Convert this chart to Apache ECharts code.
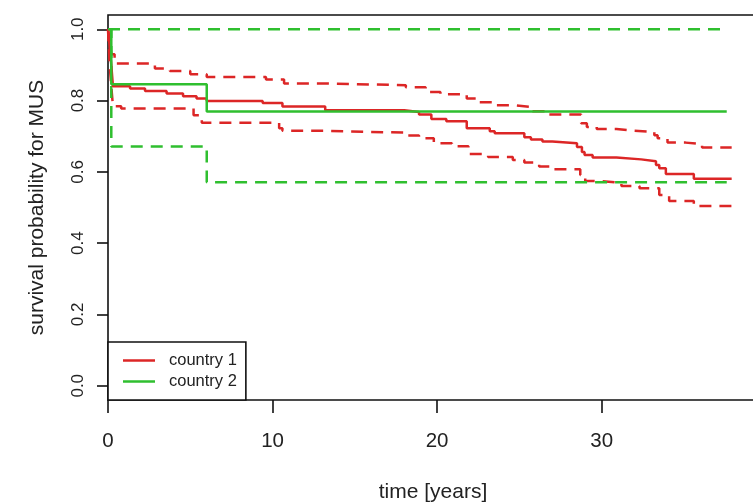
<!DOCTYPE html>
<html>
<head>
<meta charset="utf-8">
<script src="https://cdn.jsdelivr.net/npm/echarts@6/dist/echarts.min.js"></script>
<style>html,body{margin:0;padding:0;background:#fff;}#c{width:753px;height:502px;}</style>
</head>
<body>
<div id="c"></div>
<script>
// ---- data ----
const xTicks = [0, 10, 20, 30];
const yTicks = [0, 0.2, 0.4, 0.6, 0.8, 1.0];

// country 1 (Kaplan-Meier estimate and confidence bounds): [time, survival]
const c1Est = [[0,1.0],[0.1,0.95],[0.2,0.90],[0.3,0.840],[1.34,0.834],[2.25,0.827],[3.56,0.820],[4.56,0.812],[5.38,0.806],[6.0,0.799],[9.4,0.793],[10.6,0.783],[13.2,0.773],[18.0,0.768],[18.9,0.761],[19.65,0.748],[20.56,0.742],[21.8,0.722],[23.2,0.714],[23.5,0.708],[25.3,0.697],[25.7,0.691],[26.4,0.685],[27.0,0.680],[28.5,0.670],[28.8,0.656],[28.96,0.647],[29.45,0.640],[30.9,0.635],[32.4,0.630],[33.3,0.619],[33.5,0.610],[33.9,0.594],[35.6,0.581],[37.9,0.581]];
const c1Upper = [[0,1.0],[0.1,0.97],[0.2,0.93],[0.4,0.904],[2.85,0.890],[3.76,0.883],[5.0,0.874],[6.0,0.866],[9.6,0.859],[10.7,0.848],[13.2,0.843],[18.1,0.837],[19.3,0.824],[20.2,0.818],[21.8,0.806],[22.4,0.795],[23.5,0.787],[24.6,0.782],[25.8,0.770],[26.8,0.761],[28.75,0.736],[29.1,0.726],[29.7,0.720],[30.9,0.715],[32.0,0.712],[33.2,0.703],[33.4,0.694],[34.0,0.682],[35.1,0.678],[36.1,0.668],[37.9,0.668]];
const c1Lower = [[0,1.0],[0.1,0.90],[0.2,0.84],[0.3,0.784],[0.8,0.778],[5.2,0.759],[5.7,0.738],[10.4,0.722],[10.6,0.715],[13.2,0.710],[18.0,0.702],[18.9,0.694],[19.8,0.680],[20.9,0.672],[21.9,0.650],[23.1,0.642],[24.6,0.633],[25.3,0.626],[26.2,0.615],[26.9,0.607],[28.7,0.591],[29.0,0.574],[30.0,0.569],[31.2,0.560],[32.3,0.554],[33.5,0.535],[34.1,0.518],[35.6,0.504],[37.9,0.503]];

// country 2
const c2Est = [[0,1.0],[0.2,0.846],[6.0,0.769],[37.6,0.769]];
const c2Upper = [[0,1.0],[37.6,1.0]];
const c2Lower = [[0,1.0],[0.2,0.671],[6.0,0.571],[37.6,0.571]];

const RED = '#dc2626';
const GREEN = '#2fbf2f';
const FONT = 'Liberation Sans, Arial, Helvetica, sans-serif';
const DASH = [12, 8];

const chart = echarts.init(document.getElementById('c'), null, {renderer: 'canvas'});

function stepSeries(name, data, color, dashed, z) {
  return {
    name: name,
    type: 'line',
    step: 'end',
    data: data,
    showSymbol: false,
    symbol: 'none',
    animation: false,
    silent: true,
    z: z,
    lineStyle: {color: color, width: 2.5, type: dashed ? DASH : 'solid'},
    itemStyle: {color: color}
  };
}

const option = {
  animation: false,
  backgroundColor: '#ffffff',
  textStyle: {fontFamily: FONT},
  grid: {
    left: 108, top: 15, width: 650, height: 385,
    show: true, borderColor: '#111', borderWidth: 1.6, backgroundColor: 'transparent',
    containLabel: false,
    outerBoundsMode: 'none'
  },
  legend: {
    show: true,
    left: 108, bottom: 102,
    orient: 'vertical',
    data: ['country 1', 'country 2'],
    icon: 'rect',
    itemWidth: 32, itemHeight: 2.5,
    itemGap: 0,
    padding: [8, 9, 8, 15],
    borderColor: '#111', borderWidth: 1.6,
    backgroundColor: '#fff',
    selectedMode: false,
    textStyle: {fontFamily: FONT, fontSize: 16.5, color: '#222', lineHeight: 21, padding: [0, 0, 0, 9]}
  },
  xAxis: {
    type: 'value', min: 0, max: 39.5,
    name: 'time [years]', nameLocation: 'middle', nameGap: 82,
    nameTextStyle: {fontFamily: FONT, fontSize: 21, color: '#222'},
    axisLine: {show: false, onZero: false},
    axisTick: {show: true, inside: false, length: 13, lineStyle: {color: '#111', width: 1.6}, customValues: xTicks},
    axisLabel: {show: true, margin: 31, fontFamily: FONT, fontSize: 20.5, color: '#222', customValues: xTicks,
      formatter: v => String(v)},
    splitLine: {show: false}
  },
  yAxis: {
    type: 'value', min: -0.04, max: 1.04,
    name: 'survival probability for MUS', nameLocation: 'middle', nameGap: 60, nameRotate: 90,
    nameTextStyle: {fontFamily: FONT, fontSize: 21, color: '#222'},
    axisLine: {show: false, onZero: false},
    axisTick: {show: true, inside: false, length: 11, lineStyle: {color: '#111', width: 1.6}, customValues: yTicks},
    axisLabel: {show: true, rotate: 90, margin: 21, fontFamily: FONT, fontSize: 17, color: '#222', customValues: yTicks,
      formatter: v => v.toFixed(1)},
    splitLine: {show: false}
  },
  series: [
    stepSeries('country 1', c1Est, RED, false, 3),
    stepSeries('c1 upper', c1Upper, RED, true, 2),
    stepSeries('c1 lower', c1Lower, RED, true, 2),
    stepSeries('country 2', c2Est, GREEN, false, 4),
    stepSeries('c2 upper', c2Upper, GREEN, true, 2),
    stepSeries('c2 lower', c2Lower, GREEN, true, 2)
  ]
};
chart.setOption(option);
</script>
</body>
</html>
